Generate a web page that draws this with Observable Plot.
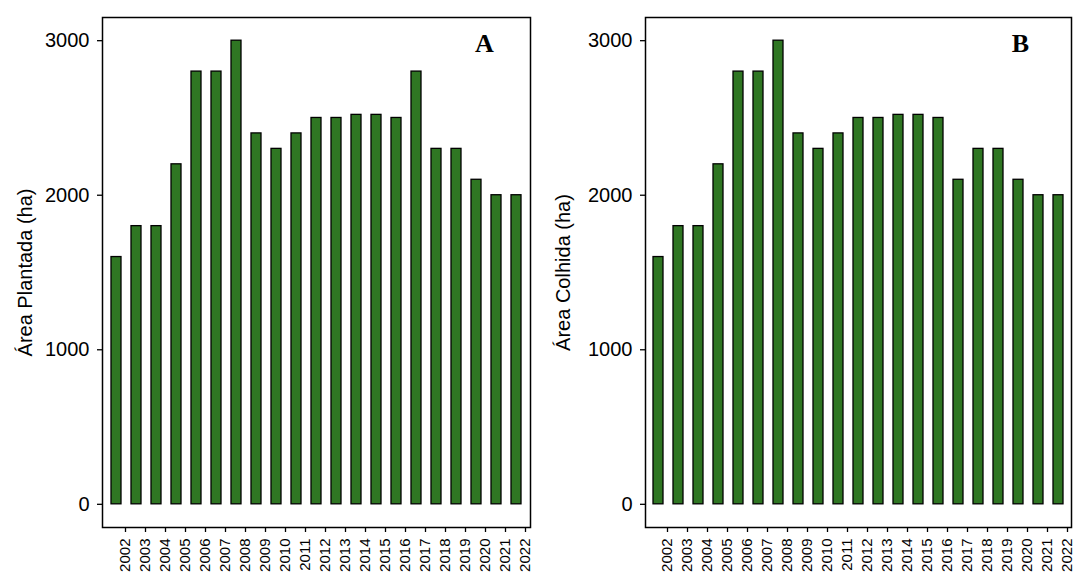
<!DOCTYPE html>
<html>
<head>
<meta charset="utf-8">
<script src="https://cdn.jsdelivr.net/npm/d3@7"></script>
<script src="https://cdn.jsdelivr.net/npm/@observablehq/plot@0.6"></script>
<style>
  html, body { margin: 0; padding: 0; background: #fff; overflow: hidden; }
  #wrap { display: flex; width: 1077px; height: 573px; }
  #wrap svg { display: block; }
</style>
</head>
<body>
<div id="wrap"></div>
<script>
const years = ["2002","2003","2004","2005","2006","2007","2008","2009","2010","2011","2012",
               "2013","2014","2015","2016","2017","2018","2019","2020","2021","2022"];
const areaPlantada = [1600,1800,1800,2200,2800,2800,3000,2400,2300,2400,2500,
                      2500,2520,2520,2500,2800,2300,2300,2100,2000,2000];
const areaColhida  = [1600,1800,1800,2200,2800,2800,3000,2400,2300,2400,2500,
                      2500,2520,2520,2500,2100,2300,2300,2100,2000,2000];
const yTicks = [0, 1000, 2000, 3000];
const panels = [
  {letter: "A", title: "Área Plantada (ha)", values: areaPlantada},
  {letter: "B", title: "Área Colhida (ha)",  values: areaColhida}
];

const green = "#2F7623";
const layout = [
  {width: 538, marginLeft: 102, marginRight: 8, titleDx: -77, letterDx: -46},
  {width: 539, marginLeft: 107, marginRight: 6, titleDx: -82, letterDx: -51}
];

const wrap = document.getElementById("wrap");
panels.forEach((p, i) => {
  const L = layout[i];
  const data = years.map((y, j) => ({year: y, value: p.values[j]}));
  const chart = Plot.plot({
    width: L.width,
    height: 573,
    marginLeft: L.marginLeft,
    marginRight: L.marginRight,
    marginTop: 17,
    marginBottom: 46,
    style: {fontFamily: "'Liberation Sans', Arial, sans-serif", color: "black", background: "white"},
    x: {type: "band", domain: years, paddingInner: 0.48, paddingOuter: 0.34},
    y: {domain: [-150, 3150]},
    marks: [
      Plot.barY(data, {x: "year", y: "value", fill: green, stroke: "black", strokeWidth: 1.3}),
      Plot.frame({stroke: "black", strokeWidth: 1.5}),
      Plot.axisY(yTicks, {tickSize: 5, tickPadding: 8, fontSize: 20, tickFormat: d => String(d), label: null, strokeWidth: 1.3}),
      Plot.axisX({tickSize: 5, tickPadding: 6, tickRotate: -90, dx: 9, fontSize: 15, label: null, strokeWidth: 1.3}),
      Plot.text([p.title], {text: d => d, frameAnchor: "left", rotate: -90, dx: L.titleDx,
                             textAnchor: "middle", lineAnchor: "middle", fontSize: 20, fill: "black"}),
      Plot.text([p.letter], {text: d => d, frameAnchor: "top-right", dx: L.letterDx, dy: 26,
                              textAnchor: "middle", lineAnchor: "middle", fontSize: 26, fontWeight: "bold",
                              fontFamily: "'Liberation Serif', 'Times New Roman', serif", fill: "black"})
    ]
  });
  wrap.appendChild(chart);
});
</script>
</body>
</html>
